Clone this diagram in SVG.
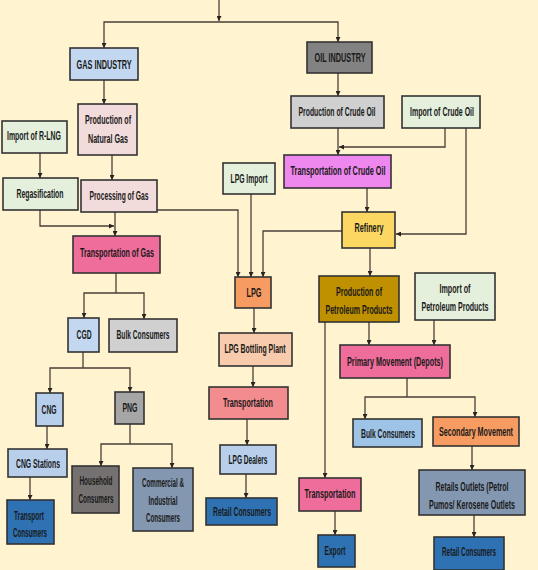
<svg xmlns="http://www.w3.org/2000/svg" width="538" height="570" viewBox="0 0 538 570">
<style>
.b{stroke:#333;stroke-width:1.6}
.t{font-family:"Liberation Sans",Arial,sans-serif;font-size:12px;font-weight:bold;fill:#1a1a1a;text-anchor:middle}
.c{fill:none;stroke:#4a4038;stroke-width:1.3}
.lb{fill:#C3D8F0}.lb2{fill:#B7CFEA}.lb3{fill:#9DC3E6}.pk{fill:#F2DCDB}.gr{fill:#E4EFDC}
.hp{fill:#EF6D9A}.sal{fill:#F38C8E}.or{fill:#F69C62}.pch{fill:#F8CBAD}
.g1{fill:#D0D0D0}.g2{fill:#A6A6A6}.g3{fill:#828282}.g4{fill:#767171}.sb{fill:#8497B0}
.vi{fill:#EE88EE}.yl{fill:#FCD862}.gd{fill:#BF9000}.db{fill:#2E72B4}
</style>
<defs>
<marker id="ah" viewBox="0 0 10 10" refX="10" refY="5" markerWidth="5" markerHeight="5" markerUnits="userSpaceOnUse" orient="auto-start-reverse">
<path d="M0,0 L10,5 L0,10 z" fill="#2a2420"/>
</marker>
</defs>
<rect width="538" height="570" fill="#FFF3D0"/>
<g id="connectors">
<path class="c" d="M219,0 V21" marker-end="url(#ah)"/>
<path class="c" d="M104,48 V22 H338 V42" marker-start="url(#ah)" marker-end="url(#ah)"/>
<path class="c" d="M104,80 V104" marker-end="url(#ah)"/>
<path class="c" d="M40,153 V178" marker-end="url(#ah)"/>
<path class="c" d="M112,155 V180" marker-end="url(#ah)"/>
<path class="c" d="M40,210 V226 H114" marker-end="url(#ah)"/>
<path class="c" d="M115,212 V236" marker-end="url(#ah)"/>
<path class="c" d="M157,210 H238 V277" marker-end="url(#ah)"/>
<path class="c" d="M251,194 V277" marker-end="url(#ah)"/>
<path class="c" d="M342,231 H263 V277" marker-end="url(#ah)"/>
<path class="c" d="M116,273 V293"/>
<path class="c" d="M84,318 V293 H144 V319" marker-start="url(#ah)" marker-end="url(#ah)"/>
<path class="c" d="M83,352 V368"/>
<path class="c" d="M50,393 V368 H130 V392" marker-start="url(#ah)" marker-end="url(#ah)"/>
<path class="c" d="M47,426 V449" marker-end="url(#ah)"/>
<path class="c" d="M30,477 V500" marker-end="url(#ah)"/>
<path class="c" d="M130,424 V444"/>
<path class="c" d="M101,466 V444 H172 V468" marker-start="url(#ah)" marker-end="url(#ah)"/>
<path class="c" d="M254,308 V333" marker-end="url(#ah)"/>
<path class="c" d="M253,366 V387" marker-end="url(#ah)"/>
<path class="c" d="M247,419 V445" marker-end="url(#ah)"/>
<path class="c" d="M246,474 V498" marker-end="url(#ah)"/>
<path class="c" d="M338,73 V96" marker-end="url(#ah)"/>
<path class="c" d="M338,128 V155" marker-end="url(#ah)"/>
<path class="c" d="M445,128 V147 H339" marker-end="url(#ah)"/>
<path class="c" d="M466,128 V234 H396" marker-end="url(#ah)"/>
<path class="c" d="M367,188 V212" marker-end="url(#ah)"/>
<path class="c" d="M370,248 V276" marker-end="url(#ah)"/>
<path class="c" d="M369,322 V345" marker-end="url(#ah)"/>
<path class="c" d="M434,320 V345" marker-end="url(#ah)"/>
<path class="c" d="M407,378 V397"/>
<path class="c" d="M365,419 V397 H475 V417" marker-start="url(#ah)" marker-end="url(#ah)"/>
<path class="c" d="M325,322 V478" marker-end="url(#ah)"/>
<path class="c" d="M335,511 V535" marker-end="url(#ah)"/>
<path class="c" d="M472,446 V470" marker-end="url(#ah)"/>
<path class="c" d="M474,515 V537" marker-end="url(#ah)"/>
</g>
<g id="gas_industry"><rect class="b lb" x="70" y="48" width="68" height="32"/><text class="t" transform="translate(104,69) scale(.6,1)" textLength="91.7" lengthAdjust="spacingAndGlyphs">GAS INDUSTRY</text></g>
<g id="prod_ng"><rect class="b pk" x="78" y="104" width="59" height="51"/><text class="t" transform="translate(108,124) scale(.6,1)" textLength="76.7" lengthAdjust="spacingAndGlyphs">Production of</text><text class="t" transform="translate(108,143) scale(.6,1)" textLength="66.7" lengthAdjust="spacingAndGlyphs">Natural Gas</text></g>
<g id="import_rlng"><rect class="b gr" x="2" y="121" width="65" height="32"/><text class="t" transform="translate(34,140) scale(.6,1)" textLength="90" lengthAdjust="spacingAndGlyphs">Import of R-LNG</text></g>
<g id="regasification"><rect class="b gr" x="3" y="178" width="75" height="32"/><text class="t" transform="translate(40,198) scale(.6,1)" textLength="78.3" lengthAdjust="spacingAndGlyphs">Regasification</text></g>
<g id="processing"><rect class="b pk" x="81" y="180" width="76" height="32"/><text class="t" transform="translate(119,200) scale(.6,1)" textLength="98.3" lengthAdjust="spacingAndGlyphs">Processing of Gas</text></g>
<g id="trans_gas"><rect class="b hp" x="73" y="236" width="87" height="37"/><text class="t" transform="translate(117,257) scale(.6,1)" textLength="123.3" lengthAdjust="spacingAndGlyphs">Transportation of Gas</text></g>
<g id="cgd"><rect class="b lb" x="68" y="318" width="31" height="34"/><text class="t" transform="translate(84,339) scale(.6,1)" textLength="25" lengthAdjust="spacingAndGlyphs">CGD</text></g>
<g id="bulk_gas"><rect class="b g1" x="109" y="319" width="68" height="33"/><text class="t" transform="translate(143,339) scale(.6,1)" textLength="88.3" lengthAdjust="spacingAndGlyphs">Bulk Consumers</text></g>
<g id="cng"><rect class="b lb2" x="36" y="393" width="27" height="33"/><text class="t" transform="translate(49,414) scale(.6,1)" textLength="25" lengthAdjust="spacingAndGlyphs">CNG</text></g>
<g id="png"><rect class="b g2" x="115" y="392" width="29" height="32"/><text class="t" transform="translate(130,412) scale(.6,1)" textLength="25" lengthAdjust="spacingAndGlyphs">PNG</text></g>
<g id="cng_stations"><rect class="b lb2" x="8" y="449" width="59" height="28"/><text class="t" transform="translate(38,468) scale(.6,1)" textLength="73.3" lengthAdjust="spacingAndGlyphs">CNG Stations</text></g>
<g id="household"><rect class="b g4" x="72" y="466" width="47" height="47"/><text class="t" transform="translate(96,485) scale(.6,1)" textLength="55" lengthAdjust="spacingAndGlyphs">Household</text><text class="t" transform="translate(96,503) scale(.6,1)" textLength="58.3" lengthAdjust="spacingAndGlyphs">Consumers</text></g>
<g id="commercial"><rect class="b sb" x="133" y="468" width="60" height="63"/><text class="t" transform="translate(163,487) scale(.6,1)" textLength="70" lengthAdjust="spacingAndGlyphs">Commercial &amp;</text><text class="t" transform="translate(163,505) scale(.6,1)" textLength="48.3" lengthAdjust="spacingAndGlyphs">Industrial</text><text class="t" transform="translate(163,522) scale(.6,1)" textLength="56.7" lengthAdjust="spacingAndGlyphs">Consumers</text></g>
<g id="transport_consumers"><rect class="b db" x="7" y="500" width="47" height="44"/><text class="t" transform="translate(29,520) scale(.6,1)" textLength="50" lengthAdjust="spacingAndGlyphs">Transport</text><text class="t" transform="translate(30,537) scale(.6,1)" textLength="56.7" lengthAdjust="spacingAndGlyphs">Consumers</text></g>
<g id="lpg_import"><rect class="b gr" x="223" y="163" width="52" height="31"/><text class="t" transform="translate(249,183) scale(.6,1)" textLength="61.7" lengthAdjust="spacingAndGlyphs">LPG Import</text></g>
<g id="lpg"><rect class="b or" x="235" y="277" width="36" height="31"/><text class="t" transform="translate(254,297) scale(.6,1)" textLength="25" lengthAdjust="spacingAndGlyphs">LPG</text></g>
<g id="lpg_bottling"><rect class="b pch" x="219" y="333" width="73" height="33"/><text class="t" transform="translate(255,353) scale(.6,1)" textLength="101.7" lengthAdjust="spacingAndGlyphs">LPG Bottling Plant</text></g>
<g id="trans_lpg"><rect class="b sal" x="209" y="387" width="79" height="32"/><text class="t" transform="translate(248,407) scale(.6,1)" textLength="83.3" lengthAdjust="spacingAndGlyphs">Transportation</text></g>
<g id="lpg_dealers"><rect class="b lb2" x="220" y="445" width="56" height="29"/><text class="t" transform="translate(248,464) scale(.6,1)" textLength="65" lengthAdjust="spacingAndGlyphs">LPG Dealers</text></g>
<g id="retail_lpg"><rect class="b db" x="206" y="498" width="71" height="27"/><text class="t" transform="translate(242,516) scale(.6,1)" textLength="96.7" lengthAdjust="spacingAndGlyphs">Retail Consumers</text></g>
<g id="oil_industry"><rect class="b g3" x="307" y="42" width="65" height="31"/><text class="t" transform="translate(340,62) scale(.6,1)" textLength="85" lengthAdjust="spacingAndGlyphs">OIL INDUSTRY</text></g>
<g id="prod_crude"><rect class="b g1" x="291" y="96" width="93" height="32"/><text class="t" transform="translate(337,116) scale(.6,1)" textLength="128.3" lengthAdjust="spacingAndGlyphs">Production of Crude Oil</text></g>
<g id="import_crude"><rect class="b gr" x="402" y="96" width="78" height="32"/><text class="t" transform="translate(442,116) scale(.6,1)" textLength="106.7" lengthAdjust="spacingAndGlyphs">Import of Crude Oil</text></g>
<g id="trans_crude"><rect class="b vi" x="284" y="155" width="107" height="33"/><text class="t" transform="translate(338,175) scale(.6,1)" textLength="158.3" lengthAdjust="spacingAndGlyphs">Transportation of Crude Oil</text></g>
<g id="refinery"><rect class="b yl" x="342" y="212" width="53" height="36"/><text class="t" transform="translate(369,232) scale(.6,1)" textLength="48.3" lengthAdjust="spacingAndGlyphs">Refinery</text></g>
<g id="prod_pp"><rect class="b gd" x="319" y="276" width="80" height="46"/><text class="t" transform="translate(359,296) scale(.6,1)" textLength="76.7" lengthAdjust="spacingAndGlyphs">Production of</text><text class="t" transform="translate(359,314) scale(.6,1)" textLength="111.7" lengthAdjust="spacingAndGlyphs">Petroleum Products</text></g>
<g id="import_pp"><rect class="b gr" x="415" y="273" width="80" height="47"/><text class="t" transform="translate(455,293) scale(.6,1)" textLength="51.7" lengthAdjust="spacingAndGlyphs">Import of</text><text class="t" transform="translate(455,311) scale(.6,1)" textLength="111.7" lengthAdjust="spacingAndGlyphs">Petroleum Products</text></g>
<g id="primary"><rect class="b hp" x="340" y="345" width="110" height="33"/><text class="t" transform="translate(395,366) scale(.6,1)" textLength="160" lengthAdjust="spacingAndGlyphs">Primary Movement (Depots)</text></g>
<g id="bulk_oil"><rect class="b lb3" x="353" y="419" width="69" height="28"/><text class="t" transform="translate(388,438) scale(.6,1)" textLength="90" lengthAdjust="spacingAndGlyphs">Bulk Consumers</text></g>
<g id="secondary"><rect class="b or" x="433" y="417" width="86" height="29"/><text class="t" transform="translate(476,436) scale(.6,1)" textLength="123.3" lengthAdjust="spacingAndGlyphs">Secondary Movement</text></g>
<g id="trans_oil"><rect class="b hp" x="299" y="478" width="62" height="33"/><text class="t" transform="translate(330,498) scale(.6,1)" textLength="85" lengthAdjust="spacingAndGlyphs">Transportation</text></g>
<g id="export"><rect class="b db" x="318" y="535" width="37" height="32"/><text class="t" transform="translate(335,555) scale(.6,1)" textLength="35" lengthAdjust="spacingAndGlyphs">Export</text></g>
<g id="retail_outlets"><rect class="b sb" x="419" y="470" width="106" height="45"/><text class="t" transform="translate(472,491) scale(.6,1)" textLength="121.7" lengthAdjust="spacingAndGlyphs">Retails Outlets (Petrol</text><text class="t" transform="translate(472,509) scale(.6,1)" textLength="143.3" lengthAdjust="spacingAndGlyphs">Pumos/ Kerosene Outlets</text></g>
<g id="retail_oil"><rect class="b db" x="434" y="537" width="70" height="33"/><text class="t" transform="translate(469,556) scale(.6,1)" textLength="90" lengthAdjust="spacingAndGlyphs">Retail Consumers</text></g>
</svg>
